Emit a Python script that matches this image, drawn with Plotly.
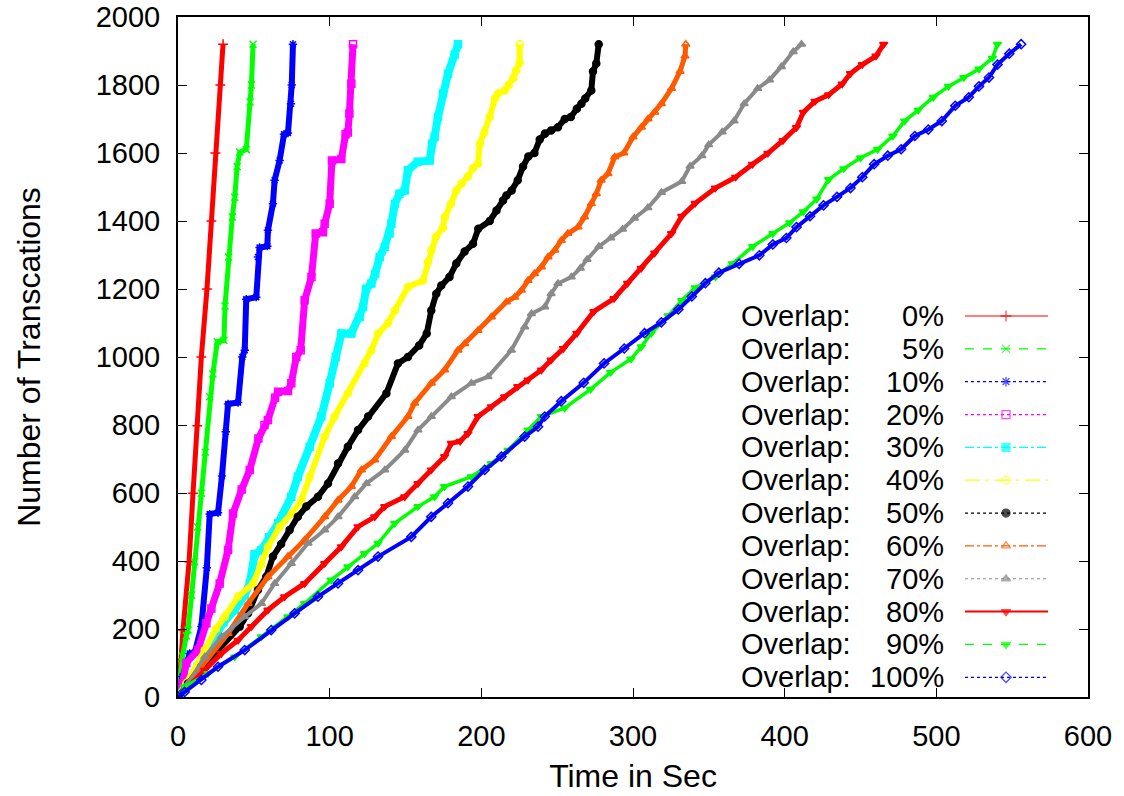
import plotly.graph_objects as go

# Cumulative transactions vs. elapsed time, one run per overlap level
overlap_labels = ["0%", "5%", "10%", "20%", "30%", "40%", "50%", "60%", "70%", "80%", "90%", "100%"]

t_0 = [0, 1, 2, 3.3, 7.3, 9.9, 12.7, 15.4, 19.1, 22, 24.6, 27.9, 29.7]
n_0 = [0, 40, 110, 197, 398, 599, 798, 1000, 1200, 1400, 1600, 1800, 1920]

t_5 = [0, 1.5, 3, 5.5, 6.6, 9, 11, 13, 15.4, 18, 20.9, 23, 25.9, 30.3, 31, 33.4, 35.8, 37.4, 39, 40.7, 45, 47.5, 48.4, 49.5]
n_5 = [0, 60, 120, 180, 197, 300, 398, 500, 599, 720, 883, 950, 1045, 1049, 1150, 1294, 1412, 1470, 1560, 1603, 1610, 1750, 1800, 1920]

t_10 = [0, 3, 7.7, 11, 15.4, 19, 20.9, 26.4, 29, 31.5, 33, 39.6, 42.4, 44, 45, 51.6, 52.7, 53.8, 58.9, 59.3, 62.6, 63.7, 67, 69.9, 72.5, 74.5, 75, 75.8]
n_10 = [0, 60, 128, 130, 207, 380, 538, 542, 650, 780, 862, 866, 1000, 1020, 1170, 1176, 1294, 1322, 1326, 1373, 1451, 1520, 1578, 1655, 1659, 1745, 1800, 1920]

t_20 = [0, 3, 5.5, 13.2, 18.7, 22, 27.5, 33, 36.3, 42, 47.3, 53, 57, 59.3, 64, 66, 72.5, 74.7, 78, 80.9, 83.5, 88, 90.8, 95.6, 96.7, 100, 101.5, 107.7, 110.5, 112, 113, 114.3, 115.4]
n_20 = [0, 40, 100, 138, 217, 260, 334, 432, 540, 610, 668, 760, 800, 815, 880, 898, 900, 923, 1000, 1020, 1167, 1235, 1363, 1367, 1392, 1451, 1578, 1582, 1655, 1660, 1716, 1804, 1920]

t_30 = [0, 6.6, 13, 24, 30, 37.4, 44, 47.3, 50.5, 55, 60, 66, 74.7, 79, 86.8, 94.5, 100, 104, 107.7, 114.3, 119.8, 122, 124, 127.5, 130, 133, 136.3, 139.5, 140.7, 143, 146, 149.5, 151.6, 158, 166, 167.5, 169.2, 171.4, 174.7, 178, 182.4, 184.6]
n_30 = [0, 40, 90, 177, 220, 256, 300, 334, 420, 432, 470, 511, 589, 648, 736, 825, 923, 1000, 1069, 1069, 1118, 1147, 1200, 1216, 1245, 1294, 1324, 1363, 1392, 1451, 1480, 1490, 1549, 1574, 1578, 1627, 1647, 1706, 1775, 1833, 1890, 1920]

t_40 = [0, 5.5, 17.6, 25, 30.8, 39.6, 49.5, 55, 59.3, 67, 75, 81.3, 86.8, 96.7, 103.3, 112, 123, 127.5, 132, 138.5, 143, 151.6, 161.5, 164.8, 167, 170, 174.7, 176, 180, 183.5, 187, 191, 194.5, 197.8, 199, 202, 205.5, 209, 211, 215.4, 218, 221, 223, 225.3, 225.3]
n_40 = [0, 40, 138, 200, 236, 295, 334, 390, 442, 501, 540, 579, 648, 766, 825, 893, 981, 1020, 1069, 1100, 1137, 1206, 1225, 1280, 1314, 1353, 1380, 1412, 1451, 1490, 1510, 1530, 1555, 1569, 1627, 1660, 1706, 1760, 1775, 1784, 1800, 1820, 1843, 1865, 1920]

t_50 = [0, 6.6, 15.4, 26.4, 40.7, 46.2, 52.7, 58.2, 62.6, 68, 73.6, 79, 84.6, 92.3, 98.9, 105.5, 112, 118.7, 125.3, 137.4, 145, 151.6, 159, 164, 167, 170.3, 173.6, 179, 183.5, 189, 194.5, 198, 205.5, 210, 214.3, 216.5, 220, 224, 227.5, 231, 235, 238.5, 242, 246, 250.5, 255, 259, 263, 266, 268.5, 272.5, 273.6, 275.8, 277.4]
n_50 = [0, 40, 90, 138, 207, 246, 315, 354, 413, 450, 491, 530, 560, 589, 628, 687, 736, 785, 825, 893, 981, 1000, 1034, 1069, 1137, 1186, 1210, 1235, 1275, 1310, 1333, 1377, 1400, 1431, 1460, 1475, 1490, 1520, 1560, 1590, 1600, 1640, 1657, 1666, 1676, 1700, 1706, 1730, 1745, 1760, 1784, 1840, 1863, 1920]

t_60 = [0, 6.6, 15.4, 33, 46.2, 59.3, 72.5, 83.5, 96.7, 105.5, 114.3, 120.9, 129.7, 140.7, 151.6, 156, 167, 175.8, 184.6, 189, 197.8, 206.6, 216.5, 222, 226.4, 230.8, 235, 239.6, 244, 248.4, 252.7, 257, 263.7, 268, 272.5, 275.8, 279, 283.5, 287.9, 294, 300, 305.5, 309.9, 314.3, 318.7, 325.4, 331, 334.3, 334.8]
n_60 = [0, 40, 89, 187, 275, 354, 413, 462, 530, 579, 619, 668, 697, 766, 825, 864, 923, 962, 1020, 1039, 1078, 1118, 1162, 1176, 1196, 1225, 1245, 1265, 1294, 1314, 1343, 1363, 1382, 1412, 1451, 1480, 1520, 1539, 1588, 1600, 1647, 1676, 1700, 1720, 1745, 1790, 1840, 1885, 1920]

t_70 = [0, 6.6, 17.6, 28.6, 44, 55, 63.7, 74.7, 85.7, 96.7, 105.5, 116.5, 124.2, 136.3, 149.5, 158.2, 167, 180.2, 193.4, 204.4, 219.8, 228.6, 233, 241.8, 246, 250.5, 259.3, 265.3, 269.7, 277.5, 285.3, 293.1, 300.9, 309.8, 318.7, 332.1, 337.6, 345.4, 349.9, 358.8, 366.6, 373.3, 382.2, 390, 397.8, 405.6, 411.1]
n_70 = [0, 40, 118, 177, 236, 275, 334, 393, 452, 491, 530, 589, 628, 668, 726, 785, 825, 883, 923, 942, 1020, 1088, 1127, 1147, 1186, 1216, 1235, 1261, 1287, 1325, 1350, 1376, 1408, 1439, 1484, 1516, 1561, 1592, 1624, 1662, 1694, 1745, 1790, 1815, 1854, 1898, 1920]

t_80 = [0, 6.6, 17.6, 28.6, 39.6, 48.4, 59.3, 70.3, 83.5, 96.7, 107.7, 118.7, 129.7, 136.3, 149.5, 158.2, 167, 175.8, 180.2, 186, 191.2, 197.8, 206.6, 215.4, 224, 230.8, 239.6, 246, 254.1, 263, 274.2, 287.5, 296.4, 305.4, 314.3, 325.4, 332.1, 341, 354.3, 367.7, 378.8, 388.9, 398.9, 407.8, 412.3, 420, 429, 437.9, 443.4, 451.2, 460.2, 465.3]
n_80 = [0, 30, 79, 128, 167, 207, 256, 295, 334, 393, 442, 501, 530, 560, 589, 628, 668, 707, 746, 752, 775, 825, 854, 883, 913, 932, 962, 991, 1025, 1070, 1134, 1172, 1217, 1261, 1306, 1363, 1414, 1452, 1497, 1529, 1567, 1599, 1637, 1675, 1720, 1752, 1771, 1803, 1834, 1860, 1885, 1920]

t_90 = [0, 4.4, 19.8, 37.4, 55, 72.5, 83.5, 101, 112, 123, 131.9, 142.9, 158.2, 169.2, 175.8, 193.4, 206.6, 217.6, 230.8, 239.6, 255, 272, 285.3, 298.7, 305.5, 312, 323.2, 332.1, 341, 354.4, 365.5, 378.9, 392.2, 403.3, 412.3, 421.2, 429, 439, 450.1, 461.3, 471.3, 479.1, 488, 498, 508, 518.1, 528.1, 537, 540.3]
n_90 = [0, 30, 69, 118, 177, 236, 275, 344, 383, 422, 452, 511, 560, 589, 619, 648, 687, 726, 785, 825, 850, 905, 955, 994, 1030, 1070, 1121, 1166, 1204, 1236, 1274, 1325, 1363, 1395, 1427, 1465, 1522, 1554, 1586, 1611, 1650, 1694, 1726, 1764, 1796, 1822, 1847, 1879, 1920]

t_100 = [0, 4.4, 15.4, 26.4, 44, 61.5, 76.9, 92.3, 105.5, 118.7, 131.9, 153.8, 167, 178, 191.2, 202.2, 213.2, 228.6, 237.4, 241.8, 252.7, 267.5, 280.9, 294.2, 307.6, 318.7, 329.9, 338.8, 347.7, 356.6, 370, 383.3, 392.2, 401.1, 407.8, 416.7, 425.6, 434.5, 443.4, 451.2, 459, 468, 476.8, 485.8, 494.7, 503.6, 512.5, 521.4, 528.1, 534.7, 540.3, 548.1, 555.9]
n_100 = [0, 15, 50, 89, 138, 197, 246, 295, 334, 373, 413, 471, 530, 570, 619, 668, 707, 766, 795, 825, 870, 924, 981, 1025, 1070, 1102, 1140, 1178, 1217, 1248, 1274, 1299, 1331, 1350, 1382, 1414, 1446, 1471, 1497, 1529, 1567, 1592, 1611, 1650, 1669, 1694, 1739, 1764, 1796, 1822, 1860, 1892, 1920]

x_ticks = [0, 100, 200, 300, 400, 500, 600]
y_ticks = [0, 200, 400, 600, 800, 1000, 1200, 1400, 1600, 1800, 2000]

times = [t_0, t_5, t_10, t_20, t_30, t_40, t_50, t_60, t_70, t_80, t_90, t_100]
counts = [n_0, n_5, n_10, n_20, n_30, n_40, n_50, n_60, n_70, n_80, n_90, n_100]

colors = ["#ff0000", "#00ff00", "#0000ff", "#ff00ff", "#00ffff", "#ffff00",
          "#000000", "#ff5a00", "#8a8a8a", "#ff0000", "#00ff00", "#0000ff"]
symbols = ["cross-thin-open", "x-thin-open", "asterisk-open", "square-open", "square",
           "circle-open", "circle", "triangle-up-open", "triangle-up", "triangle-down",
           "triangle-down", "diamond-open"]
widths = [5, 5, 6, 7, 8, 6, 6, 5, 4, 5, 3.5, 4]
dashes = ["solid", "dash", "dot", "dot", "dashdot", "longdashdot",
          "dot", "dashdot", "dot", "solid", "dash", "dot"]

FONT = "Liberation Sans, Arial, sans-serif"

fig = go.Figure()

for t, n, c, s, w in zip(times, counts, colors, symbols, widths):
    fig.add_trace(go.Scatter(
        x=t, y=n, mode="lines+markers",
        line=dict(color=c, width=w),
        marker=dict(symbol=s, size=7, color=c, line=dict(color=c, width=1.5)),
        showlegend=False, hoverinfo="skip",
    ))

# Key: label text on the left, line sample with a centred marker on the right
key_top = 0.5603      # paper y of first entry
key_step = 0.0483     # paper spacing between entries
for i, (lab, c, s, d) in enumerate(zip(overlap_labels, colors, symbols, dashes)):
    yk = key_top - i * key_step
    fig.add_annotation(x=(740 - 178) / 910, y=yk, xref="paper", yref="paper",
                       text="Overlap:", showarrow=False, xanchor="left", yanchor="middle",
                       borderpad=0, font=dict(family=FONT, size=29, color="black"))
    fig.add_annotation(x=(945 - 178) / 910, y=yk, xref="paper", yref="paper",
                       text=lab, showarrow=False, xanchor="right", yanchor="middle",
                       borderpad=0, font=dict(family=FONT, size=29, color="black"))
    fig.add_trace(go.Scatter(
        x=[(965 - 178) / 910, (1006 - 178) / 910, (1048 - 178) / 910], y=[yk, yk, yk],
        xaxis="x2", yaxis="y2", mode="lines+markers",
        line=dict(color=c, width=2 if i == 9 else 1.2, dash=d),
        marker=dict(symbol=s, size=[0, 8, 0], color=c, line=dict(color=c, width=1.3)),
        showlegend=False, hoverinfo="skip",
    ))

axis_common = dict(showline=True, linecolor="black", linewidth=2, mirror="ticks",
                   ticks="inside", ticklen=9, tickwidth=1, tickcolor="black",
                   showgrid=False, zeroline=False, automargin=False,
                   tickfont=dict(family=FONT, size=29, color="black"))

fig.update_layout(
    width=1124, height=796,
    margin=dict(l=178, r=36, t=17, b=99),
    paper_bgcolor="white", plot_bgcolor="white",
    xaxis=dict(range=[0, 600], tickvals=x_ticks, ticktext=[str(v) for v in x_ticks],
               ticklabelstandoff=12,
               title=dict(text="Time in Sec", font=dict(family=FONT, size=32, color="black"), standoff=14),
               **axis_common),
    yaxis=dict(range=[0, 2000], tickvals=y_ticks, ticktext=[str(v) for v in y_ticks],
               ticklabelstandoff=10,
               title=dict(text="Number of Transcations", font=dict(family=FONT, size=32, color="black"), standoff=45),
               **axis_common),
    xaxis2=dict(range=[0, 1], overlaying="x", visible=False, fixedrange=True),
    yaxis2=dict(range=[0, 1], overlaying="y", visible=False, fixedrange=True),
    showlegend=False,
)

fig.write_html("out.html")
